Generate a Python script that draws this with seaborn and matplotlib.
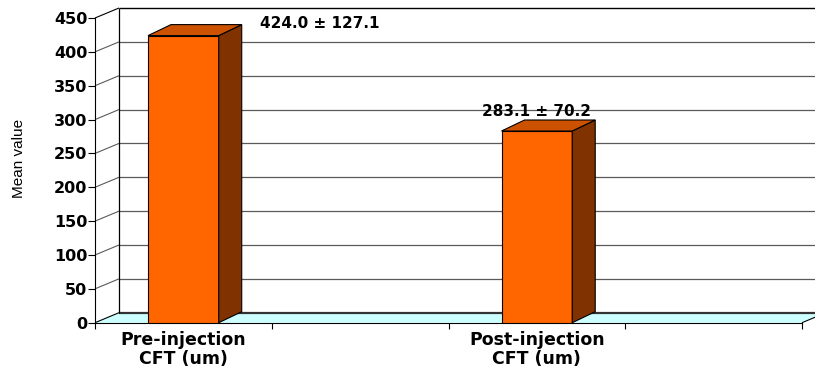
import numpy as np
import pandas as pd
import matplotlib
matplotlib.use("Agg")
import matplotlib.pyplot as plt
import seaborn as sns
from matplotlib.patches import Polygon, Rectangle
from matplotlib.lines import Line2D
from matplotlib.transforms import IdentityTransform

# ---- data -------------------------------------------------------------
categories = ["Pre-injection\nCFT (um)", "Post-injection\nCFT (um)"]
slot_order = ["Pre-injection\nCFT (um)", " ", "Post-injection\nCFT (um)", "  "]
slot_labels = ["Pre-injection\nCFT (um)", "", "Post-injection\nCFT (um)", ""]
mean_values = [424.0, 283.1]
sd_values = [127.1, 70.2]
y_ticks = [0, 50, 100, 150, 200, 250, 300, 350, 400, 450]
y_label = "Mean value"

sns.set_theme(style="white")
plt.rcParams["font.family"] = ["DejaVu Sans"]
plt.rcParams.update({
    "text.color": "black",
    "axes.labelcolor": "black",
    "xtick.labelcolor": "black",
    "ytick.labelcolor": "black",
    "xtick.color": "black",
    "ytick.color": "black",
})

W, H = 815, 368
fig = plt.figure(figsize=(W / 100, H / 100), dpi=100)
fig.patch.set_facecolor("white")
ax = fig.add_axes([95 / W, 45.3 / H, 707 / W, 304.7 / H])
ax.set_facecolor("none")

df = pd.DataFrame({"group": categories, "mean": mean_values})
sns.barplot(data=df, x="group", y="mean", order=slot_order, width=0.4,
            color="#FF6600", saturation=1, edgecolor="black", linewidth=0.8,
            ax=ax, zorder=6)
bars = [p for p in ax.patches if isinstance(p, Rectangle)]

ax.set_xlim(-0.5, 3.5)
ax.set_ylim(0, 450)

# depth offsets (pixels) for the walls and for the bars
wall_d = np.array([24.0, 10.0])
bar_d = np.array([23.0, 11.0])
ident = IdentityTransform()


def disp(x, y):
    return np.asarray(ax.transData.transform((x, y)), dtype=float)


def seg(p, q, color, lw, z=1):
    ax.add_artist(Line2D([p[0], q[0]], [p[1], q[1]], color=color, lw=lw,
                         transform=ident, clip_on=False, zorder=z,
                         solid_capstyle="butt"))


x_lo, x_hi = -0.5, 3.5

# floor
f0, f1 = disp(x_lo, 0), disp(x_hi, 0)
ax.add_artist(Polygon([f0, f1, f1 + wall_d, f0 + wall_d], closed=True,
                      facecolor="#CCFFFF", edgecolor="none",
                      transform=ident, clip_on=False, zorder=0.5))
seg(f1, f1 + wall_d, "black", 0.8)

# back wall grid and left side wall grid
for v in y_ticks:
    a, b = disp(x_lo, v), disp(x_hi, v)
    if v == 450:
        col, lw = "black", 1.0
    elif v == 0:
        col, lw = "#333333", 1.6
    else:
        col, lw = "#5a5a5a", 0.9
    seg(a + wall_d, b + wall_d, col, lw)
    side_col = "black" if v in (0, 450) else "#5a5a5a"
    seg(a, a + wall_d, side_col, 0.8)
seg(disp(x_lo, 0) + wall_d, disp(x_lo, 450) + wall_d, "black", 0.9)

# 3-D faces of the bars, built from the bars seaborn drew
for p in bars:
    h = p.get_height()
    if not np.isfinite(h) or h <= 0:
        continue
    x0, w = p.get_x(), p.get_width()
    tl, tr = disp(x0, h), disp(x0 + w, h)
    br = disp(x0 + w, 0)
    ax.add_artist(Polygon([br, br + bar_d, tr + bar_d, tr], closed=True,
                          facecolor="#803300", edgecolor="black", lw=0.8,
                          transform=ident, clip_on=False, zorder=6))
    ax.add_artist(Polygon([tl, tr, tr + bar_d, tl + bar_d], closed=True,
                          facecolor="#CC5200", edgecolor="black", lw=0.8,
                          transform=ident, clip_on=False, zorder=6))

# value labels
label_offsets = [(136, 12), (0, 20)]
slot_pos = [slot_order.index(c) for c in categories]
for pos, m, s, (dx, dy) in zip(slot_pos, mean_values, sd_values, label_offsets):
    ax.annotate(f"{m:.1f} \u00b1 {s:.1f}", xy=(pos, m), xytext=(dx, dy),
                textcoords="offset pixels", ha="center", va="center",
                fontsize=11, fontweight="bold", color="black",
                annotation_clip=False, zorder=8)

# axes, ticks, labels
ax.set_yticks(y_ticks)
ax.set_yticklabels([str(v) for v in y_ticks], fontsize=11.5,
                   fontweight="bold")
ax.set_xticks(range(len(slot_order)))
ax.set_xticklabels(slot_labels, fontsize=12.5, fontweight="bold",
                   linespacing=1.05)
ax.set_xticks(np.arange(x_lo, x_hi + 0.01, 1.0), minor=True)
ax.tick_params(axis="x", which="major", length=0, pad=6)
ax.tick_params(axis="x", which="minor", bottom=True, length=4.3,
               width=0.8, color="black", direction="out")
ax.tick_params(axis="y", which="major", left=True, length=5, width=0.8,
               color="black", direction="out", pad=0.5)
ax.set_xlabel("")
ax.set_ylabel(y_label, family=["Liberation Sans", "DejaVu Sans"],
              fontsize=11, va="center", color="black")
ax.yaxis.set_label_coords(-0.107, 0.54)

for side in ("top", "right"):
    ax.spines[side].set_visible(False)
for side in ("left", "bottom"):
    ax.spines[side].set_color("black")
    ax.spines[side].set_linewidth(0.8)
    ax.spines[side].set_zorder(3)

ax.set_xlim(x_lo, x_hi)
ax.set_ylim(0, 450)

fig.savefig("out.png", dpi=100, facecolor="white")
